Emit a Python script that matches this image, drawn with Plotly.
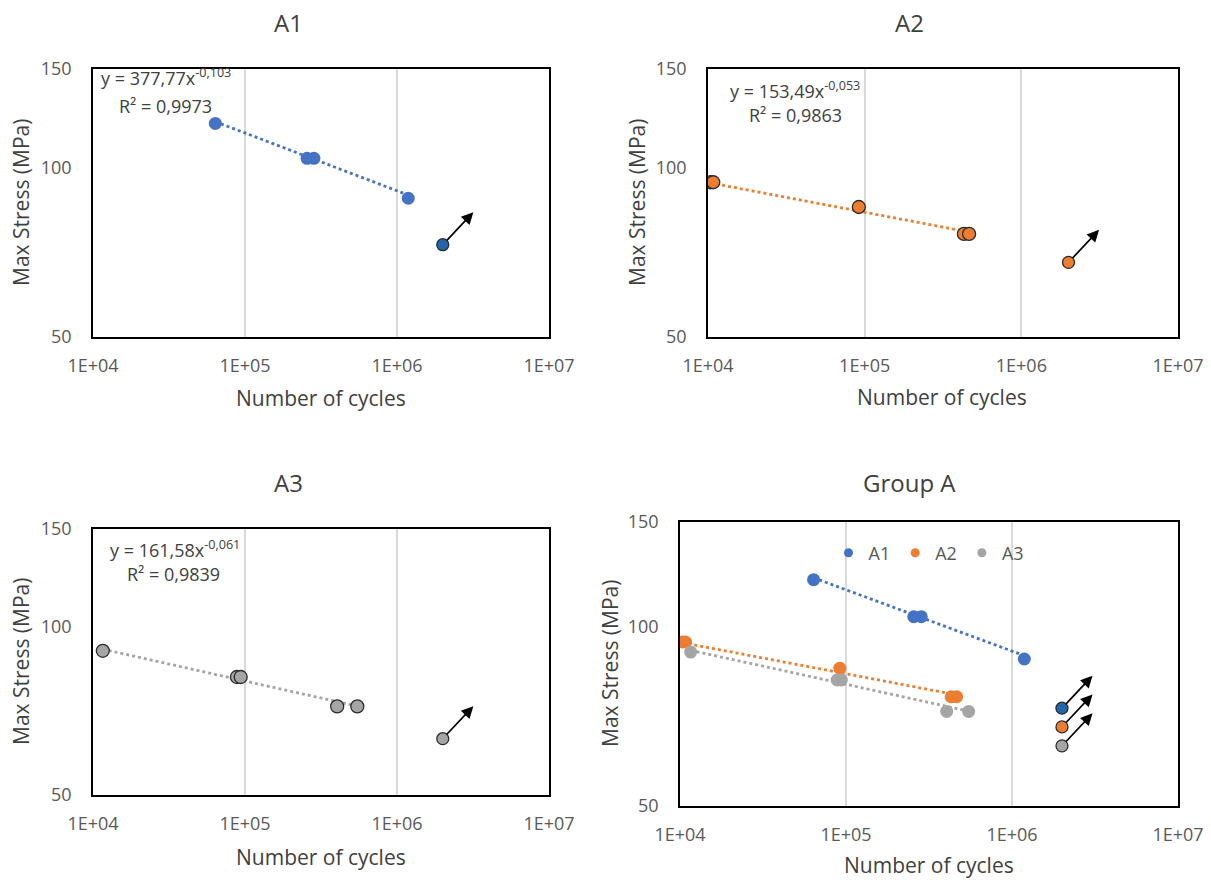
import numpy as np
import plotly.graph_objects as go

# ---- data: fatigue tests (cycles to failure, max stress in MPa) ----
A1_cycles = [63800, 256000, 284000, 1186000]
A1_stress = [120.0, 104.0, 104.0, 88.3]
A2_cycles = [10350, 10800, 91800, 430000, 464000]
A2_stress = [94.3, 94.3, 85.2, 76.3, 76.3]
A3_cycles = [11600, 88500, 93700, 404000, 548000]
A3_stress = [90.7, 81.4, 81.4, 72.1, 72.1]

# run-outs (specimens that did not fail)
runout_cycles = [2000000, 2000000, 2000000]
runout_stress = [73.0, 67.9, 63.1]

# power-law fits  y = a * x^b
fit_a = [377.77, 153.49, 161.58]
fit_b = [-0.103, -0.053, -0.061]
fit_a_txt = ["377,77", "153,49", "161,58"]
fit_b_txt = ["-0,103", "-0,053", "-0,061"]
fit_r2_txt = ["0,9973", "0,9863", "0,9839"]

series_names = ["A1", "A2", "A3"]
panel_titles = ["A1", "A2", "A3", "Group A"]
x_ticks = [1e4, 1e5, 1e6, 1e7]
x_tick_text = ["1E+04", "1E+05", "1E+06", "1E+07"]
y_ticks = [50, 100, 150]

# ---- styling ----
W, H = 1211, 880
FONT = "Open Sans"
TXT = "#404040"
TICK = "#595959"
COLORS = ["#4472C4", "#ED7D31", "#A5A5A5"]
RUNOUT_FILL = ["#2166AC", "#ED7D31", "#A5A5A5"]
EDGE = "#2B2B2B"

# panel boxes in pixels: (left, top, right, bottom)
boxes = [(93, 69, 549, 337), (708, 69, 1178, 337),
         (93, 529, 549, 795), (680, 522, 1178, 806)]


def px_x(v):
    return v / W


def px_y(v):
    return 1 - v / H


cycles = [A1_cycles, A2_cycles, A3_cycles]
stress = [A1_stress, A2_stress, A3_stress]

fig = go.Figure()
layout = dict(width=W, height=H, margin=dict(l=0, r=0, t=0, b=0, pad=0),
              autosize=False, paper_bgcolor="white", plot_bgcolor="white",
              font=dict(family=FONT, color=TXT), showlegend=True)

eps = 1e-6
for i, (l, t, r, b) in enumerate(boxes):
    k = "" if i == 0 else str(i + 1)
    layout["xaxis" + k] = dict(
        type="log", range=[4 - eps, 7 + eps], domain=[px_x(l), px_x(r)],
        anchor="y" + k, tickvals=x_ticks, ticktext=x_tick_text,
        automargin=False,
        showgrid=True, gridcolor="#D9D9D9", gridwidth=1.5,
        showline=True, linecolor="black", linewidth=1.5, mirror=True,
        ticks="", zeroline=False, ticklabelstandoff=12,
        tickfont=dict(family=FONT, size=18, color=TICK))
    layout["yaxis" + k] = dict(
        type="log", range=[np.log10(50) - eps, np.log10(150) + eps],
        domain=[px_y(b), px_y(t)], anchor="x" + k, tickvals=y_ticks,
        automargin=False,
        showgrid=False, showline=True, linecolor="black", linewidth=1.5,
        mirror=True, ticks="", zeroline=False, ticklabelstandoff=16,
        tickfont=dict(family=FONT, size=18, color=TICK))


def add_series(j, panel, outline):
    k = "" if panel == 0 else str(panel + 1)
    xa, ya = "x" + k, "y" + k
    xs = np.array(cycles[j], dtype=float)
    xline = np.array([xs.min(), xs.max()])
    yline = fit_a[j] * xline ** fit_b[j]
    fig.add_trace(go.Scatter(
        x=xline, y=yline, mode="lines", xaxis=xa, yaxis=ya,
        line=dict(color=COLORS[j], width=2.8, dash="dot"),
        showlegend=False, hoverinfo="skip"))
    fig.add_trace(go.Scatter(
        x=cycles[j], y=stress[j], mode="markers", xaxis=xa, yaxis=ya,
        name=series_names[j], showlegend=False,
        marker=dict(size=13, color=COLORS[j],
                    line=dict(color=EDGE, width=1.3 if outline else 0))))
    fig.add_trace(go.Scatter(
        x=[runout_cycles[j]], y=[runout_stress[j]], mode="markers",
        xaxis=xa, yaxis=ya, showlegend=False,
        marker=dict(size=12, color=RUNOUT_FILL[j],
                    line=dict(color=EDGE, width=1.3))))


annotations = []


def add_arrow(j, panel):
    # run-out arrow pointing up and to the right from the marker
    k = "" if panel == 0 else str(panel + 1)
    annotations.append(dict(
        x=np.log10(runout_cycles[j]), y=np.log10(runout_stress[j]),
        xref="x" + k, yref="y" + k, ax=32, ay=-34, text="",
        showarrow=True, arrowside="start",
        startarrowhead=2, startarrowsize=1.4,
        arrowwidth=1.7, arrowcolor="black", standoff=6))


# single-series panels
add_series(0, 0, outline=False)
add_series(1, 1, outline=True)
add_series(2, 2, outline=True)
for j in range(3):
    add_arrow(j, j)

# combined panel
for j in range(3):
    add_series(j, 3, outline=False)
    add_arrow(j, 3)

# legend entries for the combined panel
for j in range(3):
    fig.add_trace(go.Scatter(
        x=[None], y=[None], mode="markers", name=series_names[j],
        xaxis="x4", yaxis="y4",
        marker=dict(size=9, color=COLORS[j])))

layout["legend"] = dict(
    orientation="h", x=px_x(929), y=px_y(553), xanchor="center",
    yanchor="middle", bgcolor="rgba(0,0,0,0)", itemwidth=30,
    font=dict(family=FONT, size=18, color=TICK), tracegroupgap=0)

# panel titles
title_pos = [(288, 23), (909, 23), (288, 482), (909, 482)]
for name, (x, y) in zip(panel_titles, title_pos):
    annotations.append(dict(
        x=px_x(x), y=px_y(y), xref="paper", yref="paper", text=name,
        showarrow=False, xanchor="center", yanchor="middle",
        font=dict(family=FONT, size=24, color=TXT)))

# axis titles
xt_pos = [(321, 398), (942, 397), (321, 857), (929, 865)]
yt_pos = [(21, 203), (637, 203), (21, 662), (610, 664)]
for (x, y) in xt_pos:
    annotations.append(dict(
        x=px_x(x), y=px_y(y), xref="paper", yref="paper",
        text="Number of cycles", showarrow=False, xanchor="center",
        yanchor="middle", font=dict(family=FONT, size=21, color=TXT)))
for (x, y) in yt_pos:
    annotations.append(dict(
        x=px_x(x), y=px_y(y), xref="paper", yref="paper",
        text="Max Stress (MPa)", showarrow=False, textangle=-90,
        xanchor="center", yanchor="middle",
        font=dict(family=FONT, size=21, color=TXT)))

# fit equations
eq_pos = [((99, 77), (117, 106)), ((728, 90), (747, 115)),
          ((108, 549), (125, 574))]
for j, ((ex, ey), (rx, ry)) in enumerate(eq_pos):
    annotations.append(dict(
        x=px_x(ex), y=px_y(ey), xref="paper", yref="paper",
        text=f"y = {fit_a_txt[j]}x<sup>{fit_b_txt[j]}</sup>",
        showarrow=False, xanchor="left", yanchor="middle",
        font=dict(family=FONT, size=18, color=TXT)))
    annotations.append(dict(
        x=px_x(rx), y=px_y(ry), xref="paper", yref="paper",
        text=f"R² = {fit_r2_txt[j]}", showarrow=False,
        xanchor="left", yanchor="middle",
        font=dict(family=FONT, size=18, color=TXT)))

layout["annotations"] = annotations
fig.update_layout(**layout)
fig.write_html("out.html")
